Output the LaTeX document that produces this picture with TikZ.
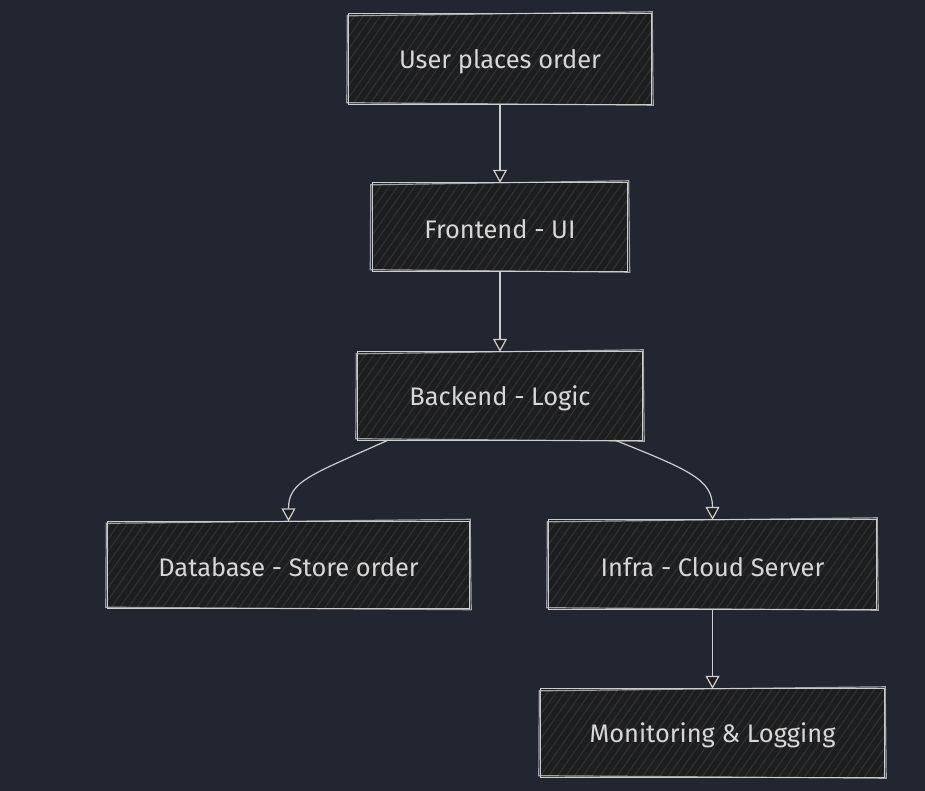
\documentclass[tikz,border=0pt]{standalone}
\usepackage{fontspec}
\setmainfont{Fira Sans}
\usetikzlibrary{arrows.meta,patterns.meta}
\definecolor{bg}{RGB}{34,38,49}
\definecolor{boxfill}{RGB}{30,30,31}
\definecolor{hatch}{RGB}{48,53,64}
\definecolor{stroke}{RGB}{205,205,205}
\definecolor{txt}{RGB}{215,215,215}
\begin{document}
\begin{tikzpicture}[x=1bp,y=-1bp,
  box/.style={rectangle, draw=none, fill=boxfill, inner sep=0pt},
  lbl/.style={text=txt, font=\fontsize{25.5}{29}\selectfont, inner sep=0pt},
  hatchfill/.style={pattern={Lines[angle=55,distance=7bp,line width=0.9bp]}, pattern color=hatch},
  outline/.style={draw=stroke, line width=1.2bp},
  edge/.style={draw=stroke, line width=1.2bp, -{Triangle[width=14bp,length=13bp,fill=boxfill]}}]
\fill[bg] (0,0) rectangle (925,791);
\useasboundingbox (0,0) rectangle (925,791);

\node[box, minimum width=302bp, minimum height=90bp] (a) at (500,59) {};
\node[box, minimum width=255bp, minimum height=88bp] (b) at (500,227) {};
\node[box, minimum width=284bp, minimum height=88bp] (c) at (500,396) {};
\node[box, minimum width=361bp, minimum height=87bp] (d) at (288.5,565) {};
\node[box, minimum width=327bp, minimum height=89bp] (e) at (712.5,564.5) {};
\node[box, minimum width=343bp, minimum height=88bp] (f) at (712.5,733) {};

\foreach \n in {a,b,c,d,e,f}{
  \path[hatchfill] (\n.south west) rectangle (\n.north east);
  \draw[outline] (\n.south west) -- (\n.south east) -- (\n.north east) -- (\n.north west) -- cycle;
  \draw[outline, opacity=0.75] ([shift={(-2bp,1.5bp)}]\n.south west) -- ([shift={(2bp,-1bp)}]\n.south east)
     -- ([shift={(1bp,2bp)}]\n.north east) -- ([shift={(-1.5bp,-2bp)}]\n.north west) -- cycle;
}
\node[lbl] (ta) at ([yshift=-2.5bp]a.center) {User places order};
\node[lbl] (tb) at ([yshift=-2.5bp]b.center) {Frontend - UI};
\node[lbl] (tc) at ([yshift=-2.5bp]c.center) {Backend - Logic};
\node[lbl] (td) at ([yshift=-2.5bp]d.center) {Database - Store order};
\node[lbl] (te) at ([yshift=-2.5bp]e.center) {Infra - Cloud Server};
\node[lbl] (tf) at ([yshift=-2.5bp]f.center) {Monitoring \& Logging};

\draw[edge] (a.south) -- (b.north);
\draw[edge] (b.south) -- (c.north);
\draw[edge] ([xshift=-112bp]c.south) .. controls ([xshift=-190bp,yshift=-35bp]c.south) and ([yshift=40bp]d.north) .. (d.north);
\draw[edge] ([xshift=115bp]c.south) .. controls ([xshift=190bp,yshift=-30bp]c.south) and ([yshift=40bp]e.north) .. (e.north);
\draw[edge] (e.south) -- (f.north);
\end{tikzpicture}
\end{document}
